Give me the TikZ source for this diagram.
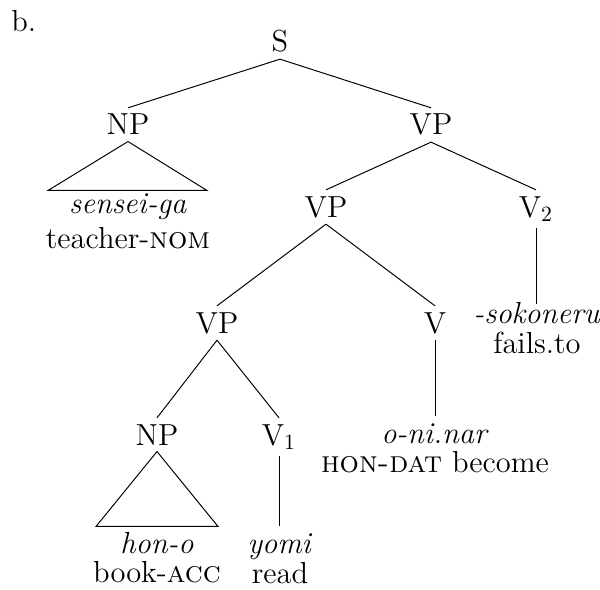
\documentclass[tikz,border=0pt]{standalone}
\usetikzlibrary{calc}
\begin{document}
\begin{tikzpicture}[x=0.46pt,y=-0.46pt,
  every node/.style={font=\fontsize{14}{17}\selectfont, inner sep=0pt},
  cat/.style={anchor=base, text height=9.5pt, inner ysep=2.8pt, inner xsep=1pt},
  leaf/.style={anchor=base, text height=10pt, inner ysep=2pt, inner xsep=1pt},
  gloss/.style={anchor=base},
  edge/.style={line width=0.45pt}]
\useasboundingbox (0,0) rectangle (600,589);
\node[anchor=base west] (lab) at (11,32) {b.};
% categories
\node[cat] (S) at (280,52) {S};
\node[cat] (np1) at (128,135) {NP};
\node[cat] (vp1) at (431,135) {VP};
\node[cat] (vp2) at (326,217) {VP};
\node[cat] (v2) at (536,217) {V$_2$};
\node[cat] (vp3) at (217,333) {VP};
\node[cat] (v) at (435,333) {V};
\node[cat] (np3) at (157,445) {NP};
\node[cat] (v1) at (279,445) {V$_1$};
% leaves
\node[leaf] (sg) at (128,213) {\textit{sensei-ga}};
\node[gloss] (sgg) at (128,248) {teacher-\textsc{nom}};
\node[leaf] (sk) at (537,323) {\textit{-sokoneru}};
\node[gloss] (skg) at (537,353) {fails.to};
\node[leaf] (on) at (435,443) {\textit{o-ni.nar}};
\node[gloss] (ong) at (435,472) {\textsc{hon-dat} become};
\node[leaf] (ho) at (157,553) {\textit{hon-o}};
\node[gloss] (hog) at (157,582) {book-\textsc{acc}};
\node[leaf] (yo) at (280,553) {\textit{yomi}};
\node[gloss] (yog) at (280,583) {read};
% edges
\draw[edge] (S.south) -- (np1.north);
\draw[edge] (S.south) -- (vp1.north);
\draw[edge] (np1.south) -- ($(sg.north)+(-80,4)$) -- ($(sg.north)+(79,4)$) -- cycle;
\draw[edge] (vp1.south) -- (vp2.north);
\draw[edge] (vp1.south) -- (v2.north);
\draw[edge] (v2.south) -- (v2.south |- {$(sk.north)+(0,8)$});
\draw[edge] (vp2.south) -- (vp3.north);
\draw[edge] (vp2.south) -- (v.north);
\draw[edge] (v.south) -- (on.north);
\draw[edge] (vp3.south) -- (np3.north);
\draw[edge] (vp3.south) -- (v1.north);
\draw[edge] (np3.south) -- ($(ho.north)+(-61,0)$) -- ($(ho.north)+(61,0)$) -- cycle;
\draw[edge] (v1.south) -- (v1.south |- yo.north);
\end{tikzpicture}
\end{document}
